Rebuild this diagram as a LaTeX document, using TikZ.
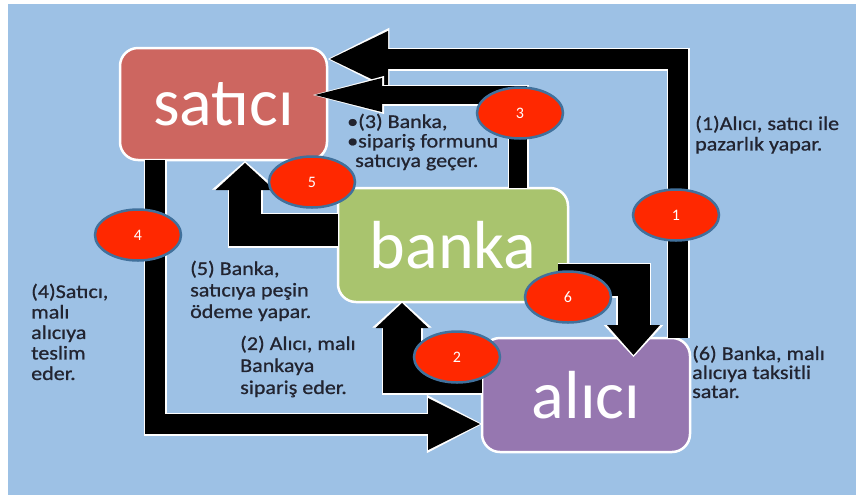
\documentclass[tikz,border=0pt]{standalone}
\usepackage{fontspec}
\setmainfont{Carlito}
\newfontfamily\yazi[FakeStretch=1.13, FakeBold=0.8]{Carlito}
\usetikzlibrary{arrows.meta, shapes.geometric, positioning, calc}

\definecolor{gok}{RGB}{157,193,229}
\definecolor{kirmizikutu}{RGB}{205,102,96}
\definecolor{yesilkutu}{RGB}{169,196,110}
\definecolor{morkutu}{RGB}{150,119,176}
\definecolor{daire}{RGB}{255,40,0}
\definecolor{dairekenar}{RGB}{65,113,156}
\definecolor{yazirengi}{RGB}{34,36,48}

\tikzset{
  kutu/.style={rectangle, rounded corners=18pt, draw=white, line width=2.5pt, text=white,
    font=\fontsize{68}{68}\selectfont, inner sep=0pt, outer sep=0pt},
  numara/.style={ellipse, fill=daire, draw=dairekenar, line width=2.5pt, minimum width=86pt,
    minimum height=51pt, inner sep=0pt, text=white, font=\fontsize{16}{16}\selectfont},
  aciklama/.style={anchor=north west, align=left, inner sep=0pt, text=yazirengi,
    font=\yazi\fontsize{19.5}{#1}\selectfont},
  aciklama/.default=20.5,
  blokok/.style n args={3}{draw=black, line width=#1, -{Triangle[width=#2, length=#3, line width=0pt]},
    preaction={draw=white, line width=#1+3pt, shorten >=-2pt,
      -{Triangle[width=#2, length=#3, line width=0pt, scale width=1.12, scale length=1.06]}}},
}

\begin{document}
\begin{tikzpicture}[x=1pt, y=-1pt]
    % Background
    \fill[white] (0,0) rectangle (856,499);
    \useasboundingbox (0,0) rectangle (856,499);
    \fill[gok] (8,4) rectangle (856,495);

    % Boxes
    \node[kutu, fill=kirmizikutu, minimum width=207pt, minimum height=112pt] (satici) at (223.5,104) {satıcı};
    \node[kutu, fill=yesilkutu, minimum width=230pt, minimum height=114pt] (banka) at (453,245) {banka};
    \node[kutu, fill=morkutu, minimum width=208pt, minimum height=114pt] (alici) at (586,395) {alıcı};

    % Block arrows
    \draw[blokok={20pt}{56pt}{58pt}] ($(alici.north east)+(-12,0)$) |- ($(satici.east)+(3,-45)$);
    \draw[blokok={18pt}{34pt}{67pt}] ($(banka.north)+(65,0)$) |- ($(satici.east)+(-12,-9)$);
    \draw[blokok={32pt}{59pt}{27pt}] ($(banka.west)+(0,-15)$) -| ($(satici.south)+(21.5,3)$);
    \draw[blokok={20pt}{52pt}{52pt}] ($(satici.south west)+(35,0)$) |- ($(alici.west)+(-2,29)$);
    \draw[blokok={38pt}{53pt}{25pt}] ($(alici.west)+(0,-21)$) -| ($(banka.south)+(-51,1)$);
    \draw[blokok={32pt}{53pt}{30pt}] ($(banka.east)+(-10,35)$) -| ($(alici.north)+(47.5,17)$);

    % Step numbers
    \node[numara] (n1) at (676,215) {1};
    \node[numara] (n2) at (457,357) {2};
    \node[numara] (n3) at (520,113) {3};
    \node[numara] (n4) at (138,235) {4};
    \node[numara] (n5) at (312,182) {5};
    \node[numara] (n6) at (568,297) {6};

    % Explanations
    \node[aciklama] (a1) at (695,115.5) {(1)Alıcı, satıcı ile\\pazarlık yapar.};
    \node[aciklama=19.5] (a3) at (347,113.5) {•(3) Banka,\\•sipariş formunu\\\hspace*{8pt}satıcıya geçer.};
    \node[aciklama=21.5] (a5) at (190,260.5) {(5) Banka,\\satıcıya peşin\\ödeme yapar.};
    \node[aciklama=22] (a2) at (240,335.5) {(2) Alıcı, malı\\Bankaya\\sipariş eder.};
    \node[aciklama] (a4) at (31,283.5) {(4)Satıcı,\\malı\\alıcıya\\teslim\\eder.};
    \node[aciklama=19] (a6) at (692,345.5) {(6) Banka, malı\\alıcıya taksitli\\satar.};
\end{tikzpicture}
\end{document}
